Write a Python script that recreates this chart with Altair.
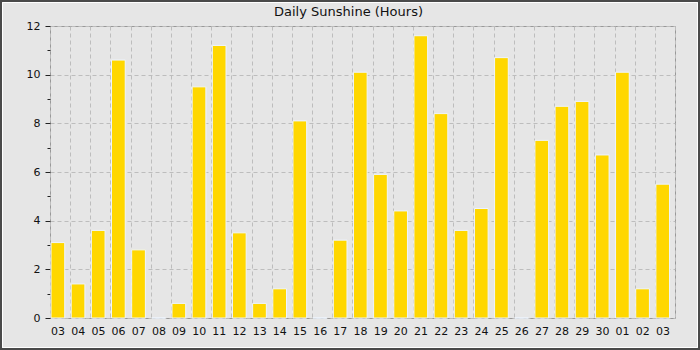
import altair as alt
import pandas as pd

days = ["03", "04", "05", "06", "07", "08", "09", "10", "11", "12", "13", "14",
        "15", "16", "17", "18", "19", "20", "21", "22", "23", "24", "25", "26",
        "27", "28", "29", "30", "01", "02", "03"]
hours = [3.1, 1.4, 3.6, 10.6, 2.8, 0.0, 0.6, 9.5, 11.2, 3.5, 0.6, 1.2,
         8.1, 0.0, 3.2, 10.1, 5.9, 4.4, 11.6, 8.4, 3.6, 4.5, 10.7, 0.0,
         7.3, 8.7, 8.9, 6.7, 10.1, 1.2, 5.5]
y_ticks = list(range(13))

df = pd.DataFrame({"i": list(range(len(days))), "day": days, "hours": hours})
label_expr = "[" + ",".join("'%s'" % d for d in days) + "][datum.value]"

FONT = "DejaVu Sans"
minor = "datum.value % 2 == 1"

bars = alt.Chart(df).mark_bar(
    color="#ffd700", stroke="#eef5ff", strokeWidth=1,
    width={"band": 0.68}, xOffset=-2.2
).encode(
    x=alt.X("i:O",
            scale=alt.Scale(paddingInner=0, paddingOuter=0),
            axis=alt.Axis(title=None, labelExpr=label_expr, labelAngle=0,
                          ticks=False, grid=True, tickBand="extent",
                          gridDash=[4, 3], gridColor="#bdbdbd", gridWidth=1,
                          domain=False, labelOffset=-2.5, labelPadding=7,
                          labelFontSize=11, labelFont=FONT, labelColor="#111")),
    y=alt.Y("hours:Q",
            scale=alt.Scale(domain=[0, 12], nice=False),
            axis=alt.Axis(title=None, values=y_ticks,
                          labelExpr="datum.value % 2 == 0 ? datum.label : ''",
                          tickSize={"condition": {"test": minor, "value": 3}, "value": 5},
                          gridOpacity={"condition": {"test": minor, "value": 0}, "value": 1},
                          gridDash=[4, 3], gridColor="#bdbdbd", gridWidth=1,
                          tickColor="#222", domain=False, labelPadding=5,
                          labelFontSize=11, labelFont=FONT, labelColor="#111")),
)

frame_data = alt.Data(values=[{"k": 1}])
outer = alt.Chart(frame_data).mark_rect(
    fill="transparent", stroke="#4a4a4a", strokeWidth=2
).encode(x=alt.value(-49), x2=alt.value(649), y=alt.value(-25), y2=alt.value(323))
inner = alt.Chart(frame_data).mark_rect(
    fill="transparent", stroke="#ffffff", strokeWidth=1
).encode(x=alt.value(-47.5), x2=alt.value(647.5), y=alt.value(-23.5), y2=alt.value(321.5))

chart = alt.layer(bars, outer, inner).properties(
    width=625, height=292,
    padding={"left": 50, "top": 26, "right": 25, "bottom": 32},
    autosize="none",
    background="#e6e6e6",
    title=alt.Title("Daily Sunshine (Hours)", fontSize=13, font=FONT,
                    fontWeight="normal", color="#111", anchor="middle",
                    dx=-14, offset=0, dy=29, baseline="alphabetic"),
).configure_view(stroke="#999999", strokeWidth=1)

chart.save("out.html", embed_options={"renderer": "svg", "actions": False})
